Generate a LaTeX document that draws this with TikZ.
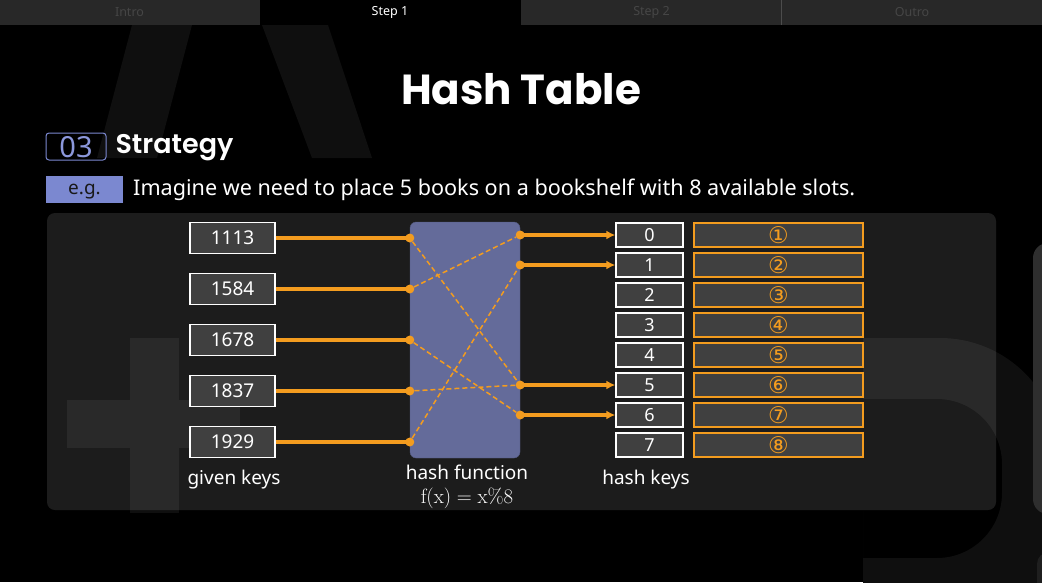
\documentclass[tikz,border=0pt]{standalone}
\usepackage[no-math]{fontspec}
\setmainfont{Noto Sans}
\newfontfamily\titlefont{Poppins}
\newfontfamily\headfont{Poppins}[UprightFont=* SemiBold]
\newfontfamily\circfont{DejaVu Sans}
\usetikzlibrary{arrows.meta,positioning}

\definecolor{tabgray}{HTML}{282828}
\definecolor{tabtext}{HTML}{464646}
\definecolor{ghost}{HTML}{0F0F0F}
\definecolor{boxgray}{HTML}{404040}
\definecolor{hashblue}{HTML}{646B9A}
\definecolor{accent}{HTML}{F39C1F}
\definecolor{lilac}{HTML}{7B88D0}
\definecolor{lilactext}{HTML}{8C98DC}

\begin{document}
\begin{tikzpicture}[x=1pt, y=-1pt,
  tab/.style={minimum width=261pt, minimum height=25pt, inner sep=0pt, font=\fontsize{12.5}{12.5}\selectfont},
  keybox/.style={draw=white, fill=boxgray, line width=1.4pt, minimum width=85pt, minimum height=31pt, inner sep=0pt, text=white, font=\fontsize{19}{19}\selectfont},
  idxbox/.style={draw=white, fill=boxgray, line width=1.4pt, minimum width=67pt, minimum height=24pt, inner sep=0pt, text=white, font=\fontsize{18}{18}\selectfont},
  slotbox/.style={draw=accent, fill=boxgray, line width=1.4pt, minimum width=169pt, minimum height=24pt, inner sep=0pt, text=accent, font=\circfont\fontsize{23}{23}\selectfont},
  dot/.style={circle, fill=accent, minimum size=9pt, inner sep=0pt},
  feed/.style={draw=accent, line width=3.2pt},
  route/.style={draw=accent, line width=1.5pt, dash pattern=on 5pt off 3pt},
  caption/.style={text=white, font=\fontsize{19}{22}\selectfont}]

\useasboundingbox (0,0) rectangle (1042,582);
\fill[black] (0,0) rectangle (1042,582);

% faint letters in the background
\fill[ghost] (132,25) -- (192,25) -- (157,158) -- (97,158) -- cycle;
\fill[ghost] (262,25) -- (328,25) -- (372,158) -- (312,158) -- cycle;
\fill[ghost] (130,338) rectangle (179,513);
\fill[ghost] (67,400) rectangle (240,448);
\fill[ghost, even odd rule] (863,338) -- (940,338) arc[start angle=-90, end angle=0, radius=120] -- (1060,600) -- (863,600) -- cycle
  (863,399) -- (937,399) arc[start angle=-90, end angle=0, radius=65] -- (1002,493) arc[start angle=0, end angle=90, radius=65] -- (863,558) -- cycle;
\fill[black!82, rounded corners=15pt] (1033,243) rectangle (1075,514);
\fill[black!88, rounded corners=12pt] (1037,552) rectangle (1075,620);

% tab bar
\node[tab, fill=tabgray, text=tabtext] (intro) at (129.5,12.5) {Intro};
\node[tab, fill=black, text=white, font=\fontsize{12.5}{12.5}\selectfont\bfseries] (step1) at (390,12.5) {Step 1};
\node[tab, fill=tabgray, text=tabtext] (step2) at (651.5,12.5) {Step 2};
\node[tab, fill=tabgray, text=tabtext] (outro) at (912,12.5) {Outro};
\draw[black!70, line width=1pt] (781.5,0) -- (781.5,25);

% heading
\node[text=white, font=\titlefont\bfseries\fontsize{42}{42}\selectfont] (title) at (521,89) {Hash Table};
\node[draw=lilac, rounded corners=3pt, line width=1pt, minimum width=60pt, minimum height=27pt, inner sep=0pt,
  text=lilactext, text depth=0pt, font=\fontsize{29}{29}\selectfont] (num) at (76,146.5) {03};
\node[anchor=west, text=white, font=\headfont\fontsize{27}{27}\selectfont] (strategy) at (112,147.5) {Strategy};
\node[fill=lilac, minimum width=77pt, minimum height=27pt, inner sep=0pt, text=black!90, text depth=0pt,
  font=\fontsize{19}{19}\selectfont] (eg) at (84.5,189.5) {e.g.};
\node[anchor=west, inner sep=0pt, text=white, font=\fontsize{21.6}{21.6}\selectfont] (intro text) at (133,190)
  {Imagine we need to place 5 books on a bookshelf with 8 available slots.};

% panel
\fill[white, fill opacity=0.11, rounded corners=8pt] (47,213) rectangle (996,510);

% given keys
\node[keybox] (k1) at (232.5,238) {1113};
\node[keybox] (k2) at (232.5,289) {1584};
\node[keybox] (k3) at (232.5,340) {1678};
\node[keybox] (k4) at (232.5,391) {1837};
\node[keybox] (k5) at (232.5,442) {1929};
\node[caption] (given) at (234,480) {given keys};

% hash function
\node[fill=hashblue, draw=hashblue!80!black, rounded corners=6pt, minimum width=110pt, minimum height=236pt] (hash) at (465,340) {};
\node[caption, align=center, font=\fontsize{19}{24}\selectfont] (fn) at (467,487) {hash function\\\fontsize{21}{21}\selectfont$\mathrm{f(x)} = \mathrm{x}\%8$};

% hash keys and slots
\foreach \i [count=\n] in {0,...,7} {
  \node[idxbox] (h\i) at (649.5,235+30*\i) {\i};
  \node[slotbox] (s\i) at (778.5,235+30*\i) {\ifcase\n\or①\or②\or③\or④\or⑤\or⑥\or⑦\or⑧\fi};
}
\node[caption] (hkeys) at (646,480) {hash keys};

% dots on the hash box
\node[dot] (in1) at (hash.west |- k1) {};
\node[dot] (in2) at (hash.west |- k2) {};
\node[dot] (in3) at (hash.west |- k3) {};
\node[dot] (in4) at (hash.west |- k4) {};
\node[dot] (in5) at (hash.west |- k5) {};
\node[dot] (out0) at (hash.east |- h0) {};
\node[dot] (out1) at (hash.east |- h1) {};
\node[dot] (out5) at (hash.east |- h5) {};
\node[dot] (out6) at (hash.east |- h6) {};

% Arrows
\draw[feed] (k1) -- (in1.center);
\draw[feed] (k2) -- (in2.center);
\draw[feed] (k3) -- (in3.center);
\draw[feed] (k4) -- (in4.center);
\draw[feed] (k5) -- (in5.center);
\draw[route] (in1) -- (out5);
\draw[route] (in2) -- (out0);
\draw[route] (in3) -- (out6);
\draw[route] (in4) -- (out5);
\draw[route] (in5) -- (out1);
\draw[feed, -{Latex[length=9pt, width=9pt]}] (out0.center) -- (h0);
\draw[feed, -{Latex[length=9pt, width=9pt]}] (out1.center) -- (h1);
\draw[feed, -{Latex[length=9pt, width=9pt]}] (out5.center) -- (h5);
\draw[feed, -{Latex[length=9pt, width=9pt]}] (out6.center) -- (h6);

\end{tikzpicture}
\end{document}
